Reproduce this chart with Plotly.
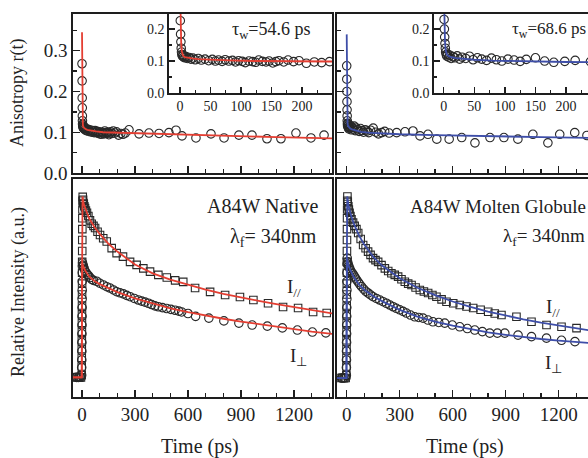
import plotly.graph_objects as go

W, H = 588, 458

# ---------------- data ----------------
# anisotropy, native (left, red)
anis_n_t = [0.0, 0.5, 1.0, 1.5, 2.0, 2.5, 3, 4, 5, 6, 8, 10, 12, 15, 18, 21, 25, 30, 35, 41, 47, 53, 58, 63, 69,
            74, 80, 86, 91, 96, 102, 107, 113, 119, 124, 129, 135, 141, 146, 152, 157, 162, 170, 177, 186, 195,
            207, 220, 232, 245, 266, 323, 379, 436, 492, 532, 566, 645, 730, 804, 888, 962, 1047, 1126, 1211,
            1296, 1370]
anis_n_r = [0.268, 0.226, 0.184, 0.16, 0.14, 0.128, 0.12, 0.115, 0.118, 0.112, 0.11, 0.114, 0.108, 0.111, 0.106,
            0.109, 0.104, 0.108, 0.103, 0.106, 0.101, 0.105, 0.1, 0.103, 0.099, 0.104, 0.1, 0.102, 0.097, 0.101,
            0.099, 0.095, 0.1, 0.098, 0.096, 0.103, 0.099, 0.097, 0.1, 0.094, 0.098, 0.101, 0.097, 0.103, 0.098,
            0.101, 0.093, 0.097, 0.095, 0.098, 0.106, 0.096, 0.098, 0.097, 0.099, 0.105, 0.091, 0.086, 0.096,
            0.086, 0.093, 0.093, 0.084, 0.084, 0.098, 0.086, 0.093]
fit_n_t = [0, 0.5, 1, 2, 3, 5, 8, 12, 20, 30, 50, 80, 120, 200, 300, 500, 700, 900, 1100, 1420]
fit_n_r = [0.345, 0.27, 0.215, 0.155, 0.13, 0.117, 0.112, 0.110, 0.108, 0.106, 0.104, 0.102, 0.100, 0.099,
           0.098, 0.095, 0.092, 0.090, 0.088, 0.085]

# anisotropy, molten globule (right, blue)
anis_m_t = [0, 0.5, 1, 1.5, 2, 2.5, 3, 4, 5, 6, 8, 10, 12, 15, 18, 22, 26, 30, 36, 42, 48, 55, 62, 70, 78, 86,
            95, 105, 115, 125, 135, 150, 165, 180, 198, 215, 240, 283, 330, 375, 415, 460, 510, 580, 651, 726,
            811, 890, 969, 1054, 1139, 1206, 1291, 1360]
anis_m_r = [0.263, 0.23, 0.2, 0.175, 0.155, 0.14, 0.128, 0.12, 0.115, 0.122, 0.112, 0.118, 0.108, 0.114, 0.11,
            0.116, 0.106, 0.112, 0.108, 0.115, 0.104, 0.11, 0.106, 0.102, 0.109, 0.104, 0.1, 0.106, 0.103, 0.099,
            0.105, 0.11, 0.1, 0.096, 0.099, 0.102, 0.098, 0.099, 0.101, 0.103, 0.091, 0.095, 0.083, 0.083, 0.087,
            0.074, 0.087, 0.087, 0.083, 0.095, 0.074, 0.095, 0.099, 0.092]
fit_m_t = [0, 0.5, 1, 2, 3, 5, 8, 12, 20, 30, 50, 80, 120, 200, 300, 500, 700, 900, 1100, 1420]
fit_m_r = [0.34, 0.27, 0.22, 0.16, 0.135, 0.12, 0.115, 0.112, 0.109, 0.107, 0.104, 0.101, 0.099, 0.097, 0.095,
           0.093, 0.091, 0.089, 0.088, 0.086]

# intensities, native
par_n_t = [-35, -25, -15, -6, -2.0, -1.75, -1.5, -1.25, -1.0, -0.75, -0.5, -0.25, 0.0, 0.25, 0.5, 0.75, 1.0, 1.25,
           1.5, 1.75, 2.0, 2.5, 3.0, 4, 6, 8, 10, 13, 17, 22, 28, 36, 45, 55, 65, 74, 88, 102, 120, 140, 168, 196,
           232, 272, 309, 347, 385, 432, 480, 527, 573, 640, 725, 810, 894, 970, 1053, 1138, 1223, 1308, 1385]
par_n_v = [0.09, 0.091, 0.089, 0.09, 0.1, 0.14, 0.18, 0.22, 0.26, 0.30, 0.34, 0.38, 0.42, 0.47, 0.52, 0.57, 0.62,
           0.67, 0.72, 0.77, 0.82, 0.86, 0.9, 0.918, 0.905, 0.89, 0.885, 0.875, 0.867, 0.855, 0.845, 0.83, 0.81,
           0.795, 0.785, 0.775, 0.758, 0.743, 0.728, 0.713, 0.683, 0.66, 0.644, 0.62, 0.606, 0.59, 0.575, 0.56,
           0.548, 0.535, 0.528, 0.5, 0.482, 0.468, 0.459, 0.445, 0.43, 0.413, 0.408, 0.39, 0.385]
perp_n_t = [-30, -20, -10, -2.0, -1.7, -1.4, -1.1, -0.8, -0.5, -0.2, 0.1, 0.4, 0.7, 1.0, 1.3, 1.6, 2.0, 3, 5, 8,
            12, 17, 23, 30, 38, 45, 55, 65, 83, 100, 121, 140, 158, 178, 196, 215, 234, 253, 272, 296, 319, 338,
            357, 376, 394, 413, 432, 455, 479, 503, 527, 548, 564, 600, 643, 718, 803, 888, 963, 1049, 1134, 1219,
            1304, 1380]
perp_n_v = [0.09, 0.09, 0.091, 0.1, 0.135, 0.17, 0.21, 0.25, 0.29, 0.33, 0.37, 0.41, 0.45, 0.49, 0.53, 0.57, 0.6,
            0.615, 0.605, 0.6, 0.59, 0.578, 0.57, 0.562, 0.556, 0.548, 0.54, 0.535, 0.531, 0.522, 0.514, 0.506,
            0.5, 0.491, 0.483, 0.478, 0.473, 0.466, 0.46, 0.452, 0.445, 0.44, 0.435, 0.43, 0.424, 0.418, 0.414,
            0.41, 0.406, 0.402, 0.398, 0.394, 0.39, 0.383, 0.37, 0.362, 0.349, 0.339, 0.33, 0.325, 0.317, 0.307,
            0.298, 0.294]
fpar_n_t = [-60, -1.5, 0, 1, 2, 3, 4, 10, 20, 40, 70, 100, 150, 200, 300, 400, 500, 600, 700, 800, 900, 1000,
            1100, 1200, 1300, 1420]
fpar_n_v = [0.09, 0.09, 0.5, 0.8, 0.9, 0.92, 0.915, 0.885, 0.86, 0.82, 0.78, 0.748, 0.703, 0.667, 0.608, 0.567,
            0.538, 0.514, 0.492, 0.473, 0.456, 0.441, 0.426, 0.412, 0.398, 0.383]
fperp_n_t = [-60, -1.5, 0, 1, 2, 3, 10, 20, 40, 70, 100, 150, 200, 300, 400, 500, 600, 700, 800, 900, 1000, 1100,
             1200, 1300, 1420]
fperp_n_v = [0.09, 0.09, 0.4, 0.58, 0.615, 0.61, 0.595, 0.578, 0.553, 0.532, 0.518, 0.498, 0.481, 0.452, 0.428,
             0.407, 0.389, 0.373, 0.359, 0.346, 0.334, 0.322, 0.311, 0.3, 0.289]

# intensities, molten globule
par_m_t = [-35, -25, -15, -6, -2.0, -1.75, -1.5, -1.25, -1.0, -0.75, -0.5, -0.25, 0.0, 0.25, 0.5, 0.75, 1.0, 1.25,
           1.5, 1.75, 2.0, 2.5, 3.0, 4, 6, 9, 12, 16, 21, 27, 36, 45, 55, 65, 79, 93, 107, 121, 135, 149, 163, 178,
           197, 216, 235, 253, 272, 291, 310, 329, 348, 367, 390, 414, 437, 461, 485, 508, 537, 565, 603, 640,
           678, 716, 758, 801, 838, 876, 961, 1046, 1131, 1216, 1301]
par_m_v = [0.087, 0.088, 0.086, 0.087, 0.1, 0.14, 0.18, 0.22, 0.26, 0.30, 0.34, 0.38, 0.42, 0.47, 0.52, 0.57,
           0.62, 0.67, 0.72, 0.77, 0.82, 0.86, 0.9, 0.92, 0.895, 0.875, 0.86, 0.845, 0.83, 0.815, 0.8, 0.785, 0.77,
           0.752, 0.725, 0.697, 0.682, 0.667, 0.652, 0.637, 0.628, 0.62, 0.605, 0.59, 0.578, 0.568, 0.56, 0.552,
           0.54, 0.529, 0.52, 0.514, 0.502, 0.491, 0.484, 0.477, 0.468, 0.46, 0.448, 0.437, 0.43, 0.422, 0.415,
           0.408, 0.4, 0.391, 0.383, 0.376, 0.368, 0.345, 0.33, 0.322, 0.316]
perp_m_t = [-30, -20, -10, -2.0, -1.7, -1.4, -1.1, -0.8, -0.5, -0.2, 0.1, 0.4, 0.7, 1.0, 1.3, 1.6, 2.0, 3, 5, 8,
            12, 17, 22, 28, 35, 42, 49, 56, 65, 74, 84, 96, 108, 121, 135, 149, 168, 187, 206, 225, 244, 263, 281,
            300, 319, 338, 361, 385, 408, 432, 460, 488, 521, 555, 598, 640, 683, 725, 768, 810, 853, 895, 970,
            1046, 1131, 1216, 1292]
perp_m_v = [0.087, 0.087, 0.088, 0.1, 0.135, 0.17, 0.21, 0.25, 0.29, 0.33, 0.37, 0.41, 0.45, 0.49, 0.53, 0.57,
            0.61, 0.637, 0.62, 0.61, 0.6, 0.59, 0.58, 0.572, 0.565, 0.555, 0.546, 0.537, 0.527, 0.517, 0.506,
            0.495, 0.485, 0.477, 0.468, 0.46, 0.452, 0.445, 0.437, 0.43, 0.422, 0.414, 0.407, 0.4, 0.393, 0.385,
            0.376, 0.368, 0.365, 0.362, 0.353, 0.345, 0.342, 0.339, 0.33, 0.322, 0.314, 0.307, 0.3, 0.293, 0.293,
            0.293, 0.284, 0.277, 0.27, 0.26, 0.254]
fpar_m_t = [-60, -1.5, 0, 1, 2, 3, 10, 20, 40, 70, 100, 150, 200, 300, 400, 500, 600, 700, 800, 900, 1000, 1100,
            1200, 1300, 1420]
fpar_m_v = [0.087, 0.087, 0.5, 0.82, 0.91, 0.92, 0.88, 0.845, 0.795, 0.74, 0.698, 0.643, 0.603, 0.545, 0.501,
            0.467, 0.438, 0.413, 0.392, 0.373, 0.356, 0.341, 0.327, 0.314, 0.3]
fperp_m_t = [-60, -1.5, 0, 1, 2, 3, 10, 20, 40, 70, 100, 150, 200, 300, 400, 500, 600, 700, 800, 900, 1000, 1100,
             1200, 1300, 1420]
fperp_m_v = [0.087, 0.087, 0.4, 0.6, 0.635, 0.63, 0.605, 0.583, 0.55, 0.515, 0.492, 0.462, 0.44, 0.4, 0.369,
             0.346, 0.327, 0.311, 0.296, 0.285, 0.275, 0.266, 0.259, 0.252, 0.245]

RED = "rgb(228,62,50)"
BLUE = "rgb(62,78,168)"
MK = "rgb(40,40,40)"
FONT = "Liberation Serif"


def px(x):
    return x / W


def py(y):
    return 1 - y / H


fig = go.Figure()


def markers(x, y, ax, sym, size):
    fig.add_trace(go.Scatter(x=x, y=y, mode="markers", xaxis="x" + ax, yaxis="y" + ax,
                             marker=dict(symbol=sym, size=size, color=MK, line=dict(width=1.1, color=MK)),
                             showlegend=False, hoverinfo="skip"))


def line(x, y, ax, color):
    fig.add_trace(go.Scatter(x=x, y=y, mode="lines", xaxis="x" + ax, yaxis="y" + ax,
                             line=dict(color=color, width=1.8), showlegend=False, hoverinfo="skip"))


# axes suffixes: '' top-left, '2' inset-left, '3' bottom-left, '4' top-right, '5' inset-right, '6' bottom-right
for ax, (tt, rr, ft, fr, col) in {"": (anis_n_t, anis_n_r, fit_n_t, fit_n_r, RED),
                                  "2": (anis_n_t, anis_n_r, fit_n_t, fit_n_r, RED),
                                  "4": (anis_m_t, anis_m_r, fit_m_t, fit_m_r, BLUE),
                                  "5": (anis_m_t, anis_m_r, fit_m_t, fit_m_r, BLUE)}.items():
    markers(tt, rr, ax, "circle-open", 8.5)
    line(ft, fr, ax, col)

markers(par_n_t, par_n_v, "3", "square-open", 7.5)
markers(perp_n_t, perp_n_v, "3", "circle-open", 8.5)
line(fpar_n_t, fpar_n_v, "3", RED)
line(fperp_n_t, fperp_n_v, "3", RED)
markers(par_m_t, par_m_v, "6", "square-open", 7.5)
markers(perp_m_t, perp_m_v, "6", "circle-open", 8.5)
line(fpar_m_t, fpar_m_v, "6", BLUE)
line(fperp_m_t, fperp_m_v, "6", BLUE)

AXC = "rgb(30,30,30)"
base = dict(showgrid=False, zeroline=False, showline=True, linecolor=AXC, linewidth=1.6, automargin=False,
            ticks="inside", tickcolor=AXC, tickwidth=1.4, tickfont=dict(family=FONT, size=19, color="#222"))

LX = [px(73), px(332)]
RX = [px(337), 1.0]
TOPY = [py(173), py(14)]
BOTY = [py(397), py(179)]
LIX = [px(169), px(332)]
RIX = [px(434), 1.0]
INY = [py(93), py(14)]

t_ticks = dict(tick0=0, dtick=300, ticklen=7,
               minor=dict(ticks="inside", dtick=100, tick0=0, ticklen=4, tickcolor=AXC, tickwidth=1.3))
r_ticks = dict(tick0=0, dtick=0.1, tickformat=".1f", ticklen=7,
               minor=dict(ticks="inside", dtick=0.05, tick0=0, ticklen=4, tickcolor=AXC, tickwidth=1.3))
inset_x = dict(tick0=0, dtick=50, ticklen=6, tickfont=dict(family=FONT, size=14, color="#222"),
               minor=dict(ticks="inside", dtick=25, tick0=0, ticklen=3, tickcolor=AXC, tickwidth=1.2))
inset_y = dict(tick0=0, dtick=0.1, tickformat=".1f", ticklen=6, tickfont=dict(family=FONT, size=14, color="#222"),
               minor=dict(ticks="inside", dtick=0.05, tick0=0, ticklen=3, tickcolor=AXC, tickwidth=1.2))

lay = dict(
    width=W, height=H, margin=dict(l=0, r=0, t=0, b=0, autoexpand=False),
    paper_bgcolor="white", plot_bgcolor="white", showlegend=False,
    font=dict(family=FONT, size=17, color="#222"),
    # top-left
    xaxis=dict(base, **t_ticks, domain=LX, range=[-51, 1415], anchor="y", showticklabels=False, mirror=True),
    yaxis=dict(base, **r_ticks, domain=TOPY, range=[0, 0.39], anchor="x", mirror=True),
    # inset-left
    xaxis2=dict(base, **inset_x, domain=LIX, range=[-18, 249], anchor="y2"),
    yaxis2=dict(base, **inset_y, domain=INY, range=[0, 0.247], anchor="x2"),
    # bottom-left
    xaxis3=dict(base, **t_ticks, domain=LX, range=[-51, 1415], anchor="y3", mirror=True),
    yaxis3=dict(base, domain=BOTY, range=[0, 1], anchor="x3", ticks="", showticklabels=False, mirror=True),
    # top-right
    xaxis4=dict(base, **t_ticks, domain=RX, range=[-55, 1366], anchor="y4", showticklabels=False, mirror=True),
    yaxis4=dict(base, **r_ticks, domain=TOPY, range=[0, 0.39], anchor="x4", showticklabels=False),
    # inset-right
    xaxis5=dict(base, **inset_x, domain=RIX, range=[-16, 236], anchor="y5"),
    yaxis5=dict(base, **inset_y, domain=INY, range=[0, 0.247], anchor="x5"),
    # bottom-right
    xaxis6=dict(base, **t_ticks, domain=RX, range=[-55, 1366], anchor="y6", mirror=True),
    yaxis6=dict(base, domain=BOTY, range=[0, 1], anchor="x6", ticks="", showticklabels=False),
)
fig.update_layout(**lay)


def note(text, x, y, size=17, xanchor="center", angle=0):
    fig.add_annotation(text=text, x=px(x), y=py(y), xref="paper", yref="paper", showarrow=False,
                       xanchor=xanchor, yanchor="middle", textangle=angle, borderpad=0,
                       font=dict(family=FONT, size=size, color="#222"))


note("Anisotropy r(t)", 18, 93, size=18, angle=-90)
note("Relative Intensity (a.u.)", 18, 292, size=18, angle=-90)
note("Time (ps)", 200, 446, size=20)
note("Time (ps)", 465, 446, size=20)
note("τ<sub>w</sub>=54.6 ps", 312, 30, size=18, xanchor="right")
note("τ<sub>w</sub>=68.6 ps", 587, 30, size=17, xanchor="right")
note("A84W Native", 319, 206, size=20, xanchor="right")
note("λ<sub>f</sub>= 340nm", 318, 237, size=20, xanchor="right")
note("A84W Molten Globule", 587, 206, size=19, xanchor="right")
note("λ<sub>f</sub>= 340nm", 586, 237, size=19, xanchor="right")
note("I<sub>//</sub>", 294, 288, size=19)
note("I<sub>⊥</sub>", 298, 357, size=19)
note("I<sub>//</sub>", 553, 308, size=19)
note("I<sub>⊥</sub>", 553, 364, size=19)

fig.write_html("out.html", config={"displayModeBar": False, "staticPlot": True},
               post_script="document.body.style.margin='0';document.body.style.overflow='hidden';")
